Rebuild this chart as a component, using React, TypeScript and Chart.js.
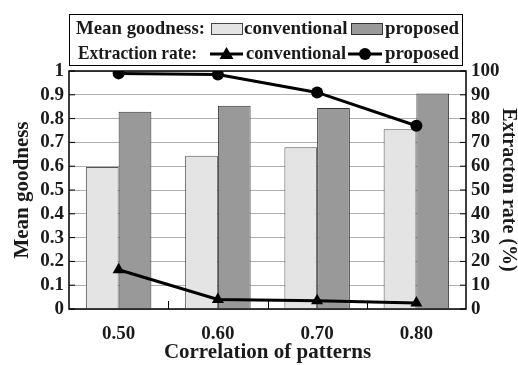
import React, { useEffect, useRef } from "react";
import { Chart, registerables } from "chart.js";

Chart.register(...registerables);

const categories = ["0.50", "0.60", "0.70", "0.80"];
const goodnessConventional = [0.597, 0.644, 0.68, 0.755];
const goodnessProposed = [0.829, 0.854, 0.845, 0.905];
const rateConventional = [16.5, 4.0, 3.5, 2.5];
const rateProposed = [99.0, 98.5, 91.0, 77.0];
const leftTicks = [0, 0.1, 0.2, 0.3, 0.4, 0.5, 0.6, 0.7, 0.8, 0.9, 1];
const rightTicks = [0, 10, 20, 30, 40, 50, 60, 70, 80, 90, 100];

const FONT = "Liberation Serif";
const LIGHT = "#e4e4e4";
const DARK = "#999999";
const TEXT = "#1a1a1a";

const framePlugin = {
  id: "frame",
  afterDatasetsDraw(chart: any) {
    const { ctx, chartArea: a, scales } = chart;
    ctx.save();
    ctx.strokeStyle = "#000";
    ctx.lineWidth = 1.5;
    ctx.strokeRect(a.left, a.top, a.right - a.left, a.bottom - a.top);
    ctx.lineWidth = 1;
    const yl = scales.y;
    yl.ticks.forEach((_t: any, i: number) => {
      const py = yl.getPixelForTick(i);
      ctx.beginPath();
      ctx.moveTo(a.left, py);
      ctx.lineTo(a.left + 6, py);
      ctx.stroke();
    });
    const yr = scales.y2;
    yr.ticks.forEach((_t: any, i: number) => {
      const py = yr.getPixelForTick(i);
      ctx.beginPath();
      ctx.moveTo(a.right, py);
      ctx.lineTo(a.right - 6, py);
      ctx.stroke();
    });
    const xs = scales.x;
    const step = xs.getPixelForValue(1) - xs.getPixelForValue(0);
    for (let i = 1; i < categories.length; i++) {
      const px = Math.round(xs.getPixelForValue(i) - step / 2) + 0.5;
      ctx.beginPath();
      ctx.moveTo(px, a.bottom);
      ctx.lineTo(px, a.bottom - 8);
      ctx.stroke();
    }
    ctx.restore();
  },
};

const legendPlugin = {
  id: "customLegend",
  afterDraw(chart: any) {
    const { ctx } = chart;
    ctx.save();
    ctx.strokeStyle = "#000";
    ctx.lineWidth = 1;
    ctx.fillStyle = "#fff";
    ctx.fillRect(69.5, 14.5, 393, 51);
    ctx.strokeRect(69.5, 14.5, 393, 51);
    ctx.font = `bold 19px "${FONT}"`;
    ctx.fillStyle = TEXT;
    ctx.textBaseline = "middle";
    ctx.textAlign = "left";
    const r1 = 29;
    const r2 = 54;
    ctx.fillText("Mean goodness:", 76, r1, 129);
    ctx.fillText("Extraction rate:", 78, r2, 119);
    ctx.fillStyle = LIGHT;
    ctx.fillRect(211, r1 - 5, 31, 11);
    ctx.strokeStyle = "#444";
    ctx.strokeRect(211.5, r1 - 5.5, 31, 11);
    ctx.fillStyle = DARK;
    ctx.fillRect(351, r1 - 5, 31, 11);
    ctx.strokeStyle = "#333";
    ctx.strokeRect(351.5, r1 - 5.5, 31, 11);
    ctx.fillStyle = TEXT;
    ctx.fillText("conventional", 244, r1, 105);
    ctx.fillText("proposed", 385, r1, 74);
    ctx.fillText("conventional", 246, r2, 100);
    ctx.fillText("proposed", 385, r2, 74);
    ctx.strokeStyle = "#000";
    ctx.lineWidth = 3;
    ctx.beginPath();
    ctx.moveTo(210, r2);
    ctx.lineTo(243, r2);
    ctx.moveTo(348, r2);
    ctx.lineTo(382, r2);
    ctx.stroke();
    ctx.fillStyle = "#000";
    ctx.beginPath();
    ctx.moveTo(226.5, r2 - 7);
    ctx.lineTo(233.5, r2 + 5);
    ctx.lineTo(219.5, r2 + 5);
    ctx.closePath();
    ctx.fill();
    ctx.beginPath();
    ctx.arc(365, r2, 6, 0, Math.PI * 2);
    ctx.fill();
    ctx.restore();
  },
};

export default function App() {
  const ref = useRef<HTMLCanvasElement>(null);
  useEffect(() => {
    document.body.style.margin = "0";
    const canvas = ref.current!;
    const chart = new Chart(canvas, {
      type: "bar",
      data: {
        labels: categories,
        datasets: [
          {
            type: "line",
            label: "Extraction rate conventional",
            data: rateConventional,
            yAxisID: "y2",
            borderColor: "#000",
            backgroundColor: "#000",
            borderWidth: 3,
            pointStyle: "triangle",
            pointRadius: 7,
            pointBorderWidth: 0,
            order: 0,
          } as any,
          {
            type: "line",
            label: "Extraction rate proposed",
            data: rateProposed,
            yAxisID: "y2",
            borderColor: "#000",
            backgroundColor: "#000",
            borderWidth: 3,
            pointStyle: "circle",
            pointRadius: 6,
            pointBorderWidth: 0,
            order: 0,
          } as any,
          {
            label: "Mean goodness conventional",
            data: goodnessConventional,
            yAxisID: "y",
            backgroundColor: LIGHT,
            borderColor: "#555",
            borderWidth: 1,
            categoryPercentage: 0.66,
            barPercentage: 1,
            order: 1,
          },
          {
            label: "Mean goodness proposed",
            data: goodnessProposed,
            yAxisID: "y",
            backgroundColor: DARK,
            borderColor: "#333",
            borderWidth: 1,
            categoryPercentage: 0.66,
            barPercentage: 1,
            order: 1,
          },
        ],
      },
      options: {
        animation: false,
        responsive: false,
        layout: { padding: { top: 71, left: 0, right: 0, bottom: 0 } },
        plugins: { legend: { display: false }, tooltip: { enabled: false } },
        scales: {
          x: {
            grid: { display: false },
            border: { display: false },
            ticks: {
              color: TEXT,
              font: { family: FONT, size: 19, weight: "bold" },
              padding: 6,
            },
            title: {
              display: true,
              text: "Correlation of patterns",
              color: TEXT,
              font: { family: FONT, size: 21, weight: "bold" },
              padding: { top: 0, bottom: 0 },
            },
            afterFit(scale: any) {
              scale.height = 56;
            },
          },
          y: {
            position: "left",
            min: 0,
            max: 1,
            afterBuildTicks(scale: any) {
              scale.ticks = leftTicks.map((v) => ({ value: v }));
            },
            grid: { color: "#b0b0b0", drawTicks: false, lineWidth: 1 },
            border: { display: false },
            ticks: {
              autoSkip: false,
              color: TEXT,
              font: { family: FONT, size: 19, weight: "bold" },
              padding: 5,
              callback: (v: any) => String(v),
            },
            title: {
              display: true,
              text: "Mean goodness",
              color: TEXT,
              font: { family: FONT, size: 21, weight: "bold", lineHeight: 1 },
              padding: { top: 12, bottom: 0 },
            },
            afterFit(scale: any) {
              scale.width = 69;
            },
          },
          y2: {
            position: "right",
            min: 0,
            max: 100,
            afterBuildTicks(scale: any) {
              scale.ticks = rightTicks.map((v) => ({ value: v }));
            },
            grid: { drawOnChartArea: false, drawTicks: false },
            border: { display: false },
            ticks: {
              autoSkip: false,
              color: TEXT,
              font: { family: FONT, size: 19, weight: "bold" },
              padding: 5,
              callback: (v: any) => String(v),
            },
            title: {
              display: true,
              text: "Extracton rate (%)",
              color: TEXT,
              font: { family: FONT, size: 20, weight: "bold", lineHeight: 1 },
              padding: { top: 0, bottom: 0 },
            },
            afterFit(scale: any) {
              scale.width = 52;
            },
          },
        },
      },
      plugins: [framePlugin, legendPlugin],
    });
    return () => chart.destroy();
  }, []);
  return <canvas ref={ref} width={518} height={365} style={{ display: "block" }} />;
}
